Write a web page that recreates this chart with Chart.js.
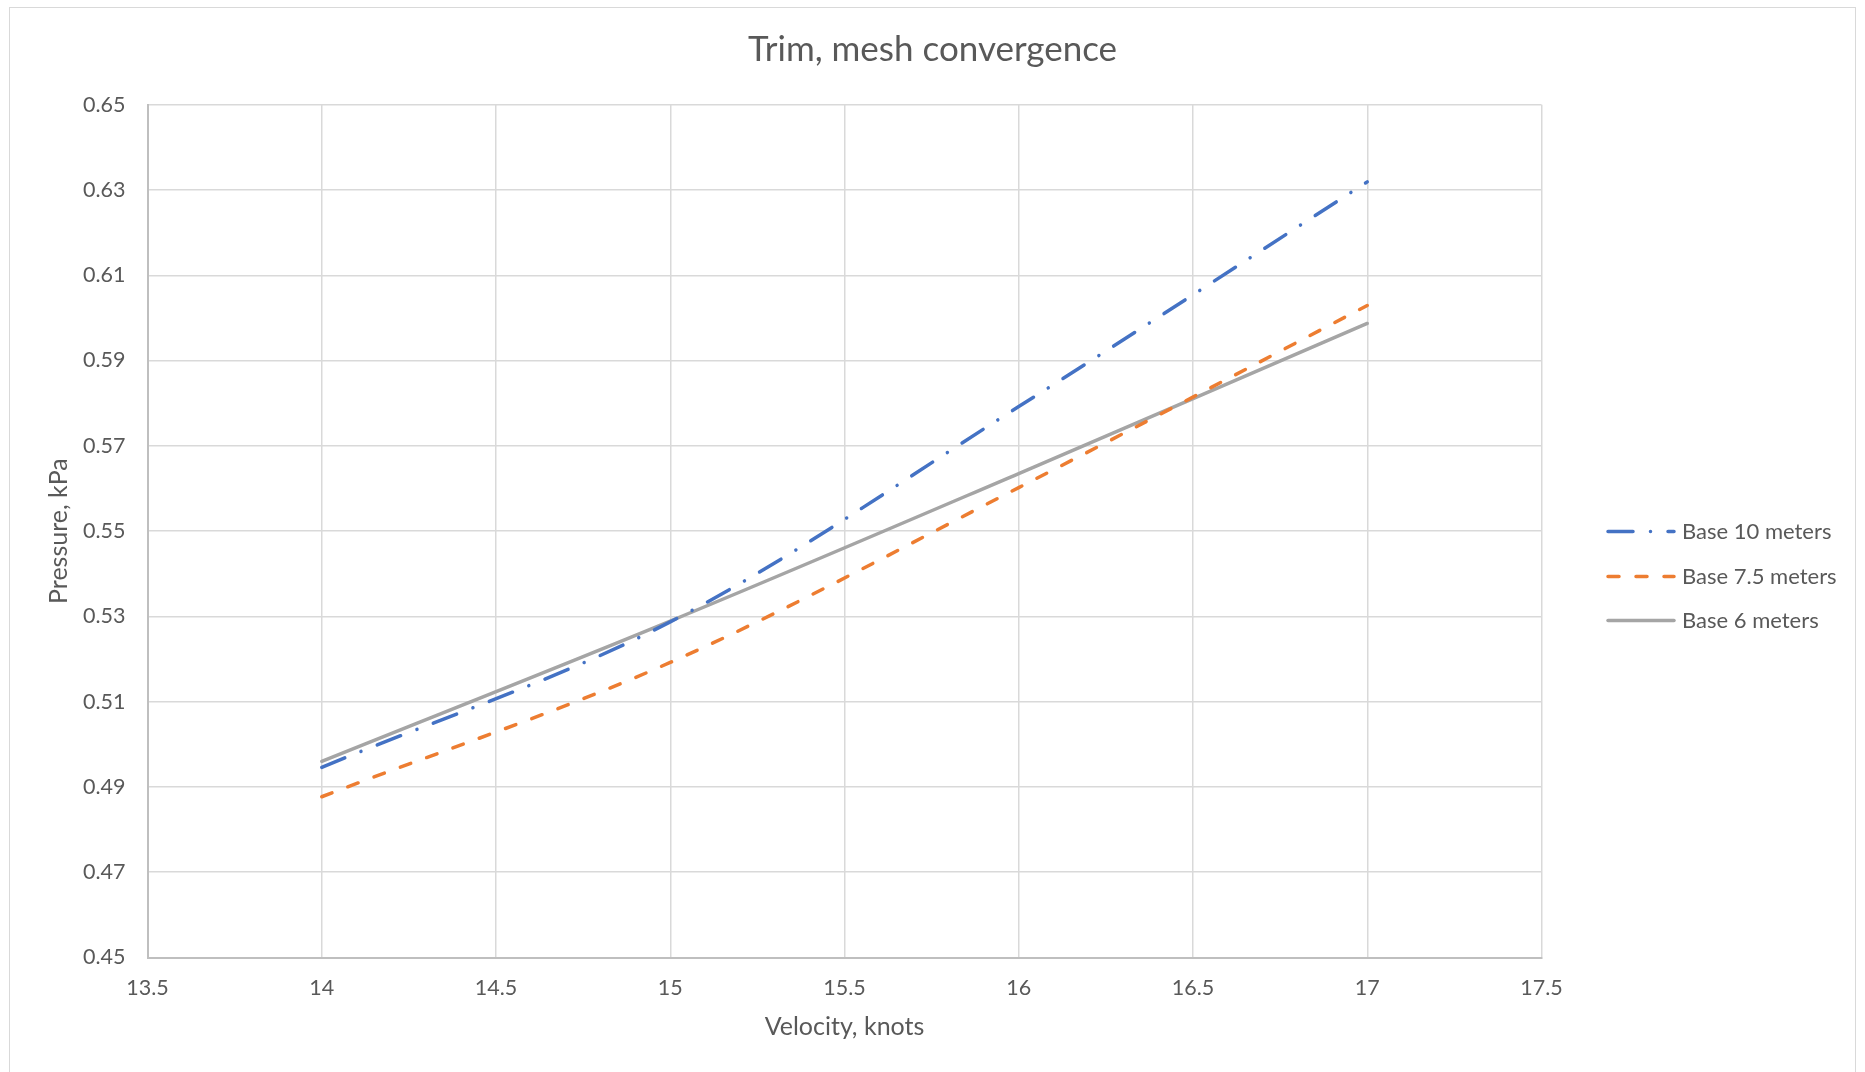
<!DOCTYPE html>
<html><head><meta charset="utf-8">
<script src="https://cdn.jsdelivr.net/npm/chart.js@4/dist/chart.umd.min.js"></script>
<style>
html,body{margin:0;padding:0;background:#fff;overflow:hidden}
#frame{position:absolute;left:9px;top:7px;width:1847px;height:1100px;border:1px solid #d9d9d9;box-sizing:border-box}
canvas{position:absolute;left:0;top:0}
</style></head><body>
<div id="frame"></div>
<canvas id="c" width="1865" height="1072"></canvas>
<script>
// ---- data ----
const velocities = [14, 15, 16, 17];
const base10 = [0.4946, 0.5287, 0.5792, 0.6319];
const base75 = [0.4877, 0.5192, 0.5602, 0.6029];
const base6  = [0.4960, 0.5289, 0.5635, 0.5987];
const seriesLabels = ['Base 10 meters', 'Base 7.5 meters', 'Base 6 meters'];
const xTickValues = [13.5, 14, 14.5, 15, 15.5, 16, 16.5, 17, 17.5];
const yTickValues = [0.45, 0.47, 0.49, 0.51, 0.53, 0.55, 0.57, 0.59, 0.61, 0.63, 0.65];
const chartTitle = 'Trim, mesh convergence';
const xTitle = 'Velocity, knots';
const yTitle = 'Pressure, kPa';

const FONT = 'Lato, "Open Sans", sans-serif';
const TXT = '#595959';

const pts = arr => velocities.map((v, i) => ({x: v, y: arr[i]}));

const legendPlugin = {
  id: 'excelLegend',
  afterDraw(chart) {
    const ctx = chart.ctx;
    const ys = [531.5, 576.5, 620.5];
    chart.data.datasets.forEach((ds, i) => {
      ctx.save();
      ctx.strokeStyle = ds.borderColor;
      ctx.lineWidth = ds.borderWidth;
      ctx.lineCap = 'round';
      ctx.setLineDash(ds.borderDash || []);
      ctx.beginPath();
      ctx.moveTo(1608, ys[i]);
      ctx.lineTo(1674, ys[i]);
      ctx.stroke();
      ctx.restore();
      ctx.save();
      ctx.fillStyle = TXT;
      ctx.font = '22px ' + FONT;
      ctx.textBaseline = 'middle';
      ctx.textAlign = 'left';
      ctx.fillText(ds.label, 1682, ys[i]);
      ctx.restore();
    });
  }
};

new Chart(document.getElementById('c'), {
  type: 'line',
  data: {
    datasets: [
      {label: seriesLabels[0], data: pts(base10), borderColor: '#4472C4', borderWidth: 3.5,
       borderDash: [25, 17.5, 0.01, 17.5], borderCapStyle: 'round'},
      {label: seriesLabels[1], data: pts(base75), borderColor: '#ED7D31', borderWidth: 3.5,
       borderDash: [11, 17], borderCapStyle: 'round'},
      {label: seriesLabels[2], data: pts(base6), borderColor: '#A5A5A5', borderWidth: 3.5,
       borderCapStyle: 'round'}
    ]
  },
  options: {
    responsive: false,
    animation: false,
    devicePixelRatio: 1,
    layout: {padding: {left: 0, right: 0, top: 0, bottom: 0}},
    elements: {point: {radius: 0, hoverRadius: 0}, line: {tension: 0.33, fill: false}},
    plugins: {
      legend: {display: false},
      tooltip: {enabled: false},
      title: {display: true, text: chartTitle, color: TXT,
        font: {family: FONT, size: 35, weight: 'normal'},
        padding: {top: 29, bottom: 33.7}}
    },
    scales: {
      x: {
        type: 'linear', min: 13.5, max: 17.5,
        afterFit: s => { s.height = 114.5; },
        afterBuildTicks: s => { s.ticks = xTickValues.map(v => ({value: v})); },
        ticks: {color: TXT, font: {family: FONT, size: 21.5}, padding: 18, maxRotation: 0,
          autoSkip: false, callback: v => String(+v.toFixed(1))},
        grid: {color: '#d9d9d9', lineWidth: 1.5, drawTicks: false},
        border: {color: '#bfbfbf', width: 2},
        title: {display: true, text: xTitle, color: TXT, font: {family: FONT, size: 25},
          padding: {top: 0, bottom: 30.5}}
      },
      y: {
        min: 0.45, max: 0.65,
        afterFit: s => { s.width = 147.5; },
        afterBuildTicks: s => { s.ticks = yTickValues.map(v => ({value: v})); },
        ticks: {color: TXT, font: {family: FONT, size: 21.5}, padding: 22, autoSkip: false,
          callback: v => v.toFixed(2)},
        grid: {color: '#d9d9d9', lineWidth: 1.5, drawTicks: false},
        border: {color: '#bfbfbf', width: 2},
        title: {display: true, text: yTitle, color: TXT, font: {family: FONT, size: 25},
          padding: {top: 44, bottom: 0}}
      },
      legendSpace: {
        type: 'linear', position: 'right', display: true,
        afterFit: s => { s.width = 323.5; },
        grid: {display: false, drawTicks: false},
        ticks: {display: false},
        border: {display: false},
        title: {display: false}
      }
    }
  },
  plugins: [legendPlugin]
});
</script>
</body></html>
